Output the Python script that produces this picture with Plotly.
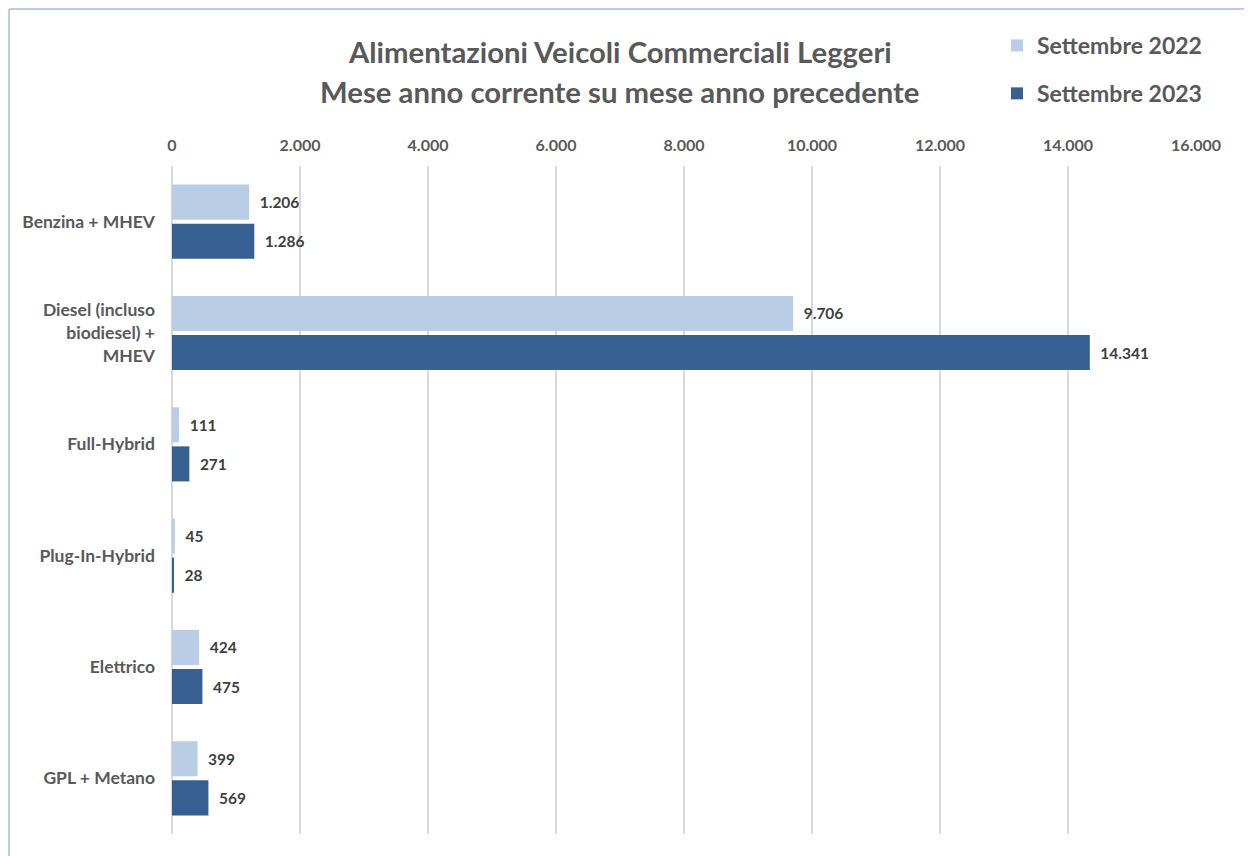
import plotly.graph_objects as go

categories = ["Benzina + MHEV", "Diesel (incluso<br>biodiesel) +<br>MHEV", "Full-Hybrid",
              "Plug-In-Hybrid", "Elettrico", "GPL + Metano"]
sett_2022 = [1206, 9706, 111, 45, 424, 399]
sett_2023 = [1286, 14341, 271, 28, 475, 569]
series_names = ["Settembre 2022", "Settembre 2023"]
tick_vals = [0, 2000, 4000, 6000, 8000, 10000, 12000, 14000, 16000]

FONT = "Lato"
LIGHT = "#B9CDE5"
DARK = "#366092"
LABEL = "#404040"
GREY = "#595959"

# page offset of the figure (body margin) is 8px; plot area spans screen x 172..1196, y 166..834
PL, PT, PW, PH = 172, 166, 1024, 668


def px(xs):
    return (xs - PL) / PW


def py(ys):
    return 1 + (PT - ys) / PH


fig = go.Figure()
for i, (name, vals, col) in enumerate(zip(series_names, [sett_2022, sett_2023], [LIGHT, DARK])):
    fig.add_trace(go.Bar(
        y=categories, x=vals, name=name, orientation="h",
        marker=dict(color=col, line=dict(width=0)),
        texttemplate="  %{x:,}", textposition="outside", cliponaxis=False,
        textfont=dict(family=FONT, size=15.5, color=LABEL, weight="bold"),
        legendgroup=f"g{i}",
    ))

fig.update_layout(
    width=1244, height=848,
    separators=",.",
    paper_bgcolor="white", plot_bgcolor="white",
    margin=dict(l=164, r=56, t=158, b=22),
    barmode="group", bargap=0.297, bargroupgap=0.103,
    font=dict(family=FONT, color=GREY),
    showlegend=True,
    legend=dict(
        x=px(997), y=py(24), xanchor="left", yanchor="top",
        traceorder="grouped", tracegroupgap=15,
        font=dict(family=FONT, size=23, color=GREY, weight="bold"),
        itemwidth=30, bgcolor="rgba(0,0,0,0)",
    ),
    xaxis=dict(
        side="top", range=[0, 16000], tickvals=tick_vals, tickformat=",",
        showgrid=True, gridcolor="#D9D9D9", gridwidth=1.5,
        zeroline=True, zerolinecolor="#D9D9D9", zerolinewidth=1.5,
        showline=False, ticks="", ticklabelstandoff=11,
        tickfont=dict(family=FONT, size=16, color=GREY, weight="bold"),
        fixedrange=True,
    ),
    yaxis=dict(
        autorange="reversed", showgrid=False, showline=False, ticks="",
        ticklabelstandoff=16,
        tickfont=dict(family=FONT, size=17.5, color=GREY, weight="bold"),
    ),
    annotations=[
        dict(text="Alimentazioni Veicoli Commerciali Leggeri", xref="paper", yref="paper",
             x=px(620), y=py(51), xanchor="center", yanchor="middle",
             showarrow=False, font=dict(family=FONT, size=29.3, color=GREY, weight="bold")),
        dict(text="Mese anno corrente su mese anno precedente", xref="paper", yref="paper",
             x=px(620), y=py(91), xanchor="center", yanchor="middle",
             showarrow=False, font=dict(family=FONT, size=29.3, color=GREY, weight="bold")),
    ],
    shapes=[
        dict(type="line", xref="paper", yref="paper",
             x0=px(9), x1=px(1252), y0=py(9), y1=py(9),
             line=dict(color="#A6BCDD", width=1.5)),
        dict(type="line", xref="paper", yref="paper",
             x0=px(9), x1=px(9), y0=py(9), y1=py(856),
             line=dict(color="#A6BCDD", width=1.5)),
    ],
)

fig.write_html("out.html")
